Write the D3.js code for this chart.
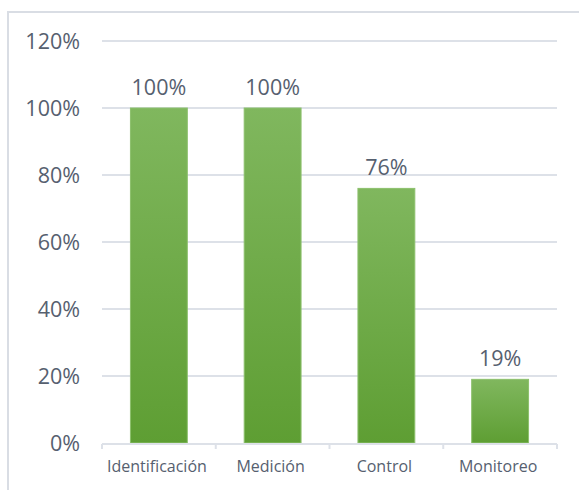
<!DOCTYPE html>
<html><head><meta charset="utf-8">
<script src="https://cdn.jsdelivr.net/npm/d3@7"></script>
<style>
html,body{margin:0;padding:0;background:#fff;}
svg{display:block;}
</style></head>
<body><svg id="c" width="579" height="490"></svg>
<script>
const categories = ["Identificación","Medición","Control","Monitoreo"];
const values = [100,100,76,19];
const yTicks = [0,20,40,60,80,100,120];

const svg = d3.select("#c");
const W = 579, H = 490;
const m = {left:102, right:22, top:41, bottom:47};
const x = d3.scaleBand().domain(categories).range([m.left, W - m.right]).paddingInner(0.5).paddingOuter(0.25);
const y = d3.scaleLinear().domain([0,120]).range([H - m.bottom, m.top]);
const FONT = "'Open Sans', Lato, sans-serif";
const TXT = "#56606f";

// frame
svg.append("rect").attr("x",8).attr("y",12).attr("width",W).attr("height",H)
  .attr("fill","none").attr("stroke","#d9dde4").attr("stroke-width",2);

const defs = svg.append("defs");
const g = defs.append("linearGradient").attr("id","gr").attr("x1",0).attr("y1",0).attr("x2",0).attr("y2",1);
g.append("stop").attr("offset","0%").attr("stop-color","#80b75e");
g.append("stop").attr("offset","100%").attr("stop-color","#5e9e33");

// gridlines
svg.append("g").selectAll("line").data(yTicks.filter(d=>d>0)).join("line")
  .attr("x1",m.left).attr("x2",W-m.right)
  .attr("y1",d=>y(d)).attr("y2",d=>y(d))
  .attr("stroke","#dde1e8").attr("stroke-width",2);

// y labels
svg.append("g").selectAll("text").data(yTicks).join("text")
  .attr("x",80).attr("y",d=>y(d)).attr("dy","0.36em")
  .attr("text-anchor","end")
  .attr("font-family",FONT).attr("font-size",21.5)
  .attr("fill",TXT).text(d=>d+"%");

// bars
svg.append("g").selectAll("rect").data(values).join("rect")
  .attr("x",(d,i)=>x(categories[i])).attr("width",x.bandwidth())
  .attr("y",d=>y(d)).attr("height",d=>y(0)-y(d))
  .attr("fill","url(#gr)").attr("stroke","#8cc06c").attr("stroke-width",1);

// value labels
svg.append("g").selectAll("text").data(values).join("text")
  .attr("x",(d,i)=>x(categories[i])+x.bandwidth()/2).attr("y",d=>y(d)-13)
  .attr("text-anchor","middle")
  .attr("font-family",FONT).attr("font-size",21.5)
  .attr("fill",TXT).text(d=>d+"%");

// x axis
const ax = svg.append("g");
ax.append("line").attr("x1",m.left).attr("x2",W-m.right).attr("y1",y(0)+1).attr("y2",y(0)+1)
  .attr("stroke","#dde1e8").attr("stroke-width",2);
const step = x.step();
const bounds = d3.range(categories.length+1).map(i=>m.left + i*step);
ax.selectAll("line.t").data(bounds).join("line").attr("class","t")
  .attr("x1",d=>d).attr("x2",d=>d).attr("y1",y(0)+1).attr("y2",y(0)+6)
  .attr("stroke","#dde1e8").attr("stroke-width",2);
ax.selectAll("text").data(categories).join("text")
  .attr("x",d=>x(d)+x.bandwidth()/2 - 2).attr("y",y(0)+29)
  .attr("text-anchor","middle")
  .attr("font-family",FONT).attr("font-size",16)
  .attr("fill",TXT).text(d=>d);
</script></body></html>
